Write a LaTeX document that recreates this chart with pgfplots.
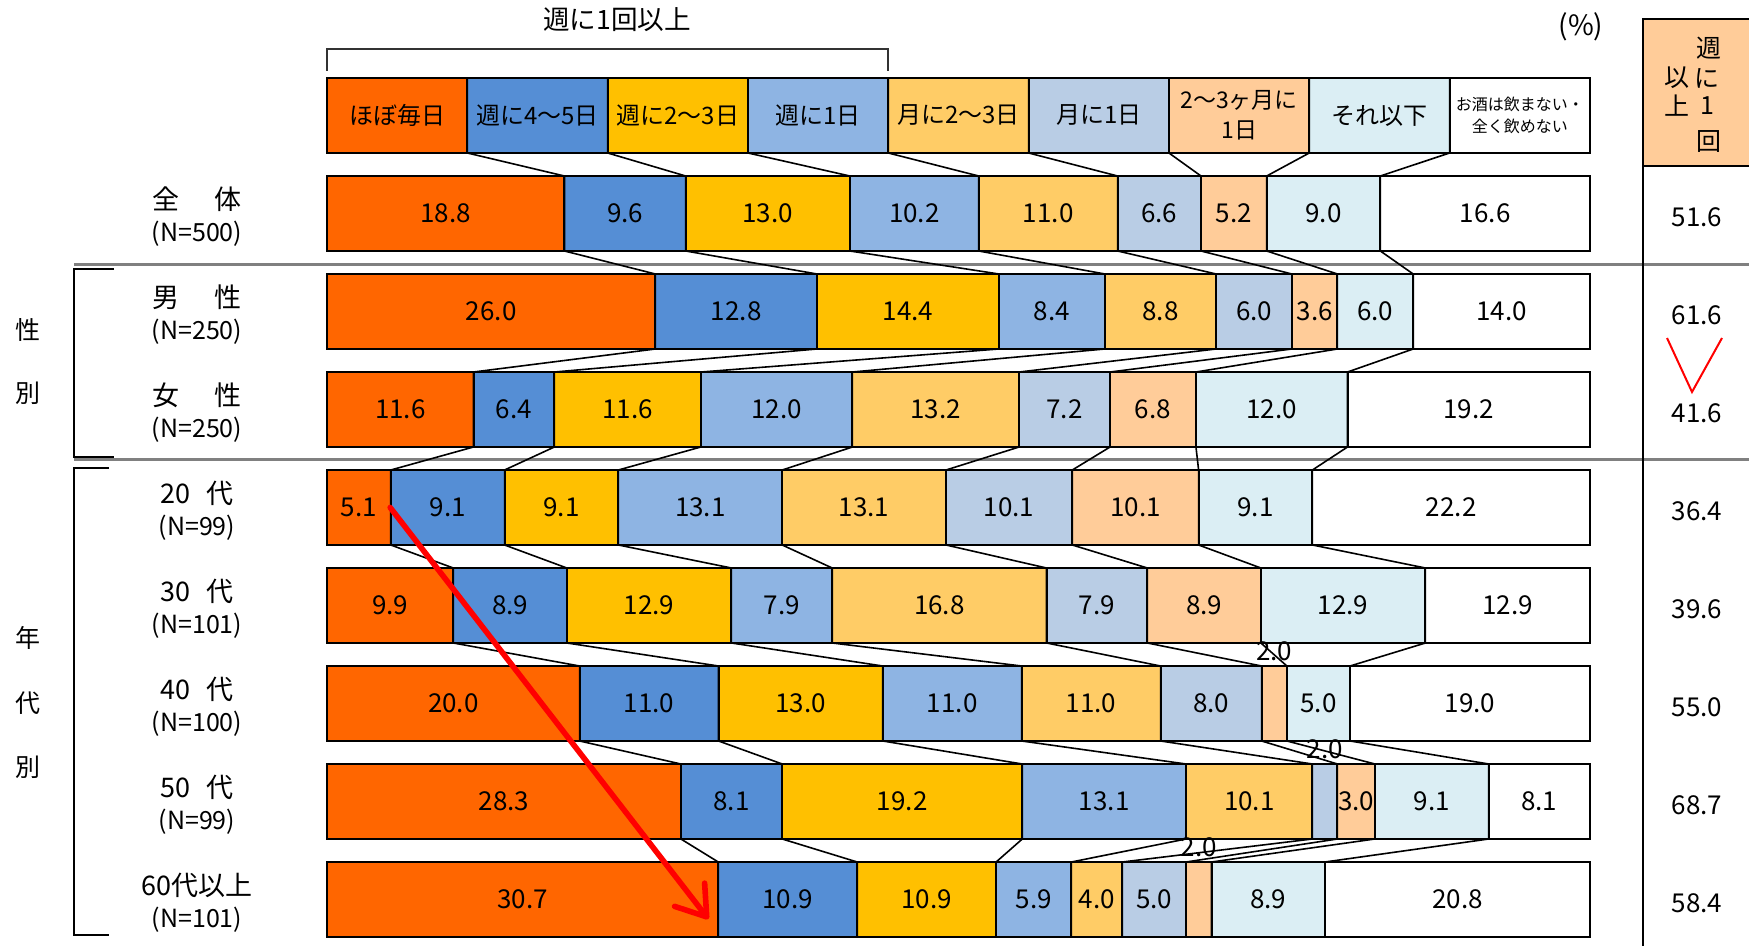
\documentclass[border=0pt]{standalone}
\usepackage{fontspec}
\setmainfont{Noto Sans CJK JP}
\usepackage{pgfplots}
\usepackage{pgfplotstable}
\pgfplotsset{compat=1.18}
\usetikzlibrary{arrows.meta}

\definecolor{c1}{HTML}{FF6600}
\definecolor{c2}{HTML}{558ED5}
\definecolor{c3}{HTML}{FFC000}
\definecolor{c4}{HTML}{8EB4E3}
\definecolor{c5}{HTML}{FFCC66}
\definecolor{c6}{HTML}{B9CDE5}
\definecolor{c7}{HTML}{FFCC99}
\definecolor{c8}{HTML}{DBEEF4}
\definecolor{c9}{HTML}{FFFFFF}
\definecolor{hdr}{HTML}{FFCC99}
\definecolor{sep}{HTML}{808080}

\newcommand\numfont{\fontsize{13}{15}\selectfont}
\newcommand\labfont{\fontsize{12.5}{15}\selectfont}
\newcommand\rowfont{\fontsize{13.5}{15}\selectfont}
\newcommand\legfont{\fontsize{12}{15}\selectfont}
\newcommand\smallleg{\fontsize{8}{11}\selectfont}

% pos 8 = legend row (equal boxes), 7 = 全体 ... 0 = 60代以上
\pgfplotstableread{
pos v1 v2 v3 v4 v5 v6 v7 v8 v9
8 1 1 1 1 1 1 1 1 1
7 18.8 9.6 13.0 10.2 11.0 6.6 5.2 9.0 16.6
6 26.0 12.8 14.4 8.4 8.8 6.0 3.6 6.0 14.0
5 11.6 6.4 11.6 12.0 13.2 7.2 6.8 12.0 19.2
4 5.1 9.1 9.1 13.1 13.1 10.1 10.1 9.1 22.2
3 9.9 8.9 12.9 7.9 16.8 7.9 8.9 12.9 12.9
2 20.0 11.0 13.0 11.0 11.0 8.0 2.0 5.0 19.0
1 28.3 8.1 19.2 13.1 10.1 2.0 3.0 9.1 8.1
0 30.7 10.9 10.9 5.9 4.0 5.0 2.0 8.9 20.8
}\data

\pgfplotstablecreatecol[expr={\thisrow{v1}+\thisrow{v2}+\thisrow{v3}+\thisrow{v4}+\thisrow{v5}+\thisrow{v6}+\thisrow{v7}+\thisrow{v8}+\thisrow{v9}}]{tot}\data
\pgfplotstablecreatecol[expr={100*\thisrow{v1}/\thisrow{tot}}]{C1}\data
\pgfplotstablecreatecol[expr={\thisrow{C1}+100*\thisrow{v2}/\thisrow{tot}}]{C2}\data
\pgfplotstablecreatecol[expr={\thisrow{C2}+100*\thisrow{v3}/\thisrow{tot}}]{C3}\data
\pgfplotstablecreatecol[expr={\thisrow{C3}+100*\thisrow{v4}/\thisrow{tot}}]{C4}\data
\pgfplotstablecreatecol[expr={\thisrow{C4}+100*\thisrow{v5}/\thisrow{tot}}]{C5}\data
\pgfplotstablecreatecol[expr={\thisrow{C5}+100*\thisrow{v6}/\thisrow{tot}}]{C6}\data
\pgfplotstablecreatecol[expr={\thisrow{C6}+100*\thisrow{v7}/\thisrow{tot}}]{C7}\data
\pgfplotstablecreatecol[expr={\thisrow{C7}+100*\thisrow{v8}/\thisrow{tot}}]{C8}\data
\pgfplotstablecreatecol[expr={\thisrow{C8}+100*\thisrow{v9}/\thisrow{tot}}]{C9}\data

% edge table: top and bottom edge of every bar, for the connecting lines
\pgfplotstablevertcat{\edges}{\data}
\pgfplotstablevertcat{\edges}{\data}
\pgfplotstablecreatecol[expr={\thisrow{pos}+(\pgfplotstablerow<9 ? 0.3825 : -0.3825)}]{ye}\edges
\pgfplotstablesort[sort key=ye, sort cmp=float >]{\edgesorted}{\edges}

\begin{document}
\begin{tikzpicture}
\useasboundingbox (0,0) rectangle (874.5pt,473pt);
\begin{scope}[x=0.5pt,y=-0.5pt,shift={(0pt,473pt)}]
  \draw[sep, line width=1.5pt] (74,265) -- (1749,265);
  \draw[sep, line width=1.5pt] (74,460) -- (1749,460);
\end{scope}

\begin{axis}[at={(0pt,0pt)}, anchor=south west, scale only axis,
  width=874.5pt, height=473pt,
  xmin=-25.891, xmax=112.589, ymin=-0.4745, ymax=9.1786,
  hide axis, clip=false,
  /pgf/number format/assume math mode=true]

\pgfplotsinvokeforeach{9,8,7,6,5,4,3,2,1}{
  \addplot[xbar, bar width=0.765, bar shift=0pt, fill=c#1, draw=black, line width=1pt]
    table[x=C#1, y=pos]{\data};
}

\pgfplotsinvokeforeach{1,...,8}{
  \addplot[black, line width=0.8pt, mark=none] table[x=C#1, y=ye]{\edgesorted};
}

\pgfplotsinvokeforeach{1,...,9}{
  \addplot[draw=none, mark=none, point meta=explicit,
    nodes near coords={\pgfmathprintnumber[fixed,fixed zerofill,precision=1]{\pgfplotspointmeta}},
    every node near coord/.style={anchor=center, text=black, font=\numfont, inner sep=0pt},
    skip coords between index={0}{1}]
    table[x expr={\thisrow{C#1}-50*\thisrow{v#1}/\thisrow{tot}},
          y expr={\thisrow{pos}+(\thisrow{v#1}<2.5 ? 0.53 : 0)}, meta=v#1]{\data};
}

% 週に1回以上 column
\addplot[draw=none, mark=none, point meta=explicit,
    nodes near coords={\pgfmathprintnumber[fixed,fixed zerofill,precision=1]{\pgfplotspointmeta}},
    every node near coord/.style={anchor=center, text=black, font=\numfont, inner sep=0pt},
    skip coords between index={0}{1}]
    table[x expr=108.47, y expr={\thisrow{pos}-0.04},
          meta expr={\thisrow{v1}+\thisrow{v2}+\thisrow{v3}+\thisrow{v4}}]{\data};

% legend row texts
\node[font=\legfont] at (axis cs:5.556,8) {ほぼ毎日};
\node[font=\legfont] at (axis cs:16.667,8) {週に4〜5日};
\node[font=\legfont] at (axis cs:27.778,8) {週に2〜3日};
\node[font=\legfont] at (axis cs:38.889,8) {週に1日};
\node[font=\legfont] at (axis cs:50,8) {月に2〜3日};
\node[font=\legfont] at (axis cs:61.111,8) {月に1日};
\node[font=\fontsize{11.5}{15}\selectfont, align=center] at (axis cs:72.222,8) {2〜3ヶ月に\\1日};
\node[font=\legfont] at (axis cs:83.333,8) {それ以下};
\node[font=\smallleg, align=center] at (axis cs:94.444,8) {お酒は飲まない・\\全く飲めない};

\draw[red, line width=2.8pt, line cap=round, -{Straight Barb[length=14pt,width=19pt,round]}] (axis cs:5.0,4.0) -- (axis cs:30.2,-0.2);
\end{axis}

\begin{scope}[x=0.5pt,y=-0.5pt,shift={(0pt,473pt)}]
  % top bracket and title
  \draw[black!80, line width=0.6pt] (327,71) -- (327,49) -- (888,49) -- (888,71);
  \node[font=\fontsize{13.3}{15}\selectfont] at (617,20) {週に1回以上};
  \node[font=\fontsize{14}{15}\selectfont] at (1581,27) {(\%)};
  % right column
  \fill[hdr] (1643,19) rectangle (1749,166);
  \draw[black, line width=1.3pt] (1749,19) -- (1643,19) -- (1643,946);
  \draw[black, line width=1.3pt] (1643,166) -- (1749,166);
  \begin{scope}[every node/.style={font=\labfont}]
    \node at (1709,48) {週};
    \node at (1707,78) {に};
    \node at (1707,106) {1};
    \node at (1709,142) {回};
    \node at (1677,78) {以};
    \node at (1677,106) {上};
  \end{scope}
  \draw[red, line width=1pt] (1667,338) -- (1692,392) -- (1722,338);
  % brackets on the left
  \draw[black, line width=1pt] (114,269) -- (74,269) -- (74,457) -- (114,457);
  \draw[black, line width=1pt] (109,468) -- (74,468) -- (74,935) -- (109,935);
  \begin{scope}[every node/.style={font=\labfont}]
    \node at (28,330) {性};
    \node at (28,393) {別};
    \node at (28,638) {年};
    \node at (28,703) {代};
    \node at (28,767) {別};
    \node[font=\rowfont] at (197,199.5) {全\hspace{1.3em}体};  \node at (197,233.5) {(N=500)};
    \node[font=\rowfont] at (197,297.5) {男\hspace{1.3em}性};  \node at (197,331.5) {(N=250)};
    \node[font=\rowfont] at (197,395.5) {女\hspace{1.3em}性};  \node at (197,429.5) {(N=250)};
    \node[font=\rowfont] at (197,493.5) {20\hspace{0.6em}代};  \node at (197,527.5) {(N=99)};
    \node[font=\rowfont] at (197,591.5) {30\hspace{0.6em}代};  \node at (197,625.5) {(N=101)};
    \node[font=\rowfont] at (197,689.5) {40\hspace{0.6em}代};  \node at (197,723.5) {(N=100)};
    \node[font=\rowfont] at (197,787.5) {50\hspace{0.6em}代};  \node at (197,821.5) {(N=99)};
    \node[font=\rowfont] at (197,885.5) {60代以上}; \node at (197,919.5) {(N=101)};
  \end{scope}
\end{scope}
\end{tikzpicture}
\end{document}
